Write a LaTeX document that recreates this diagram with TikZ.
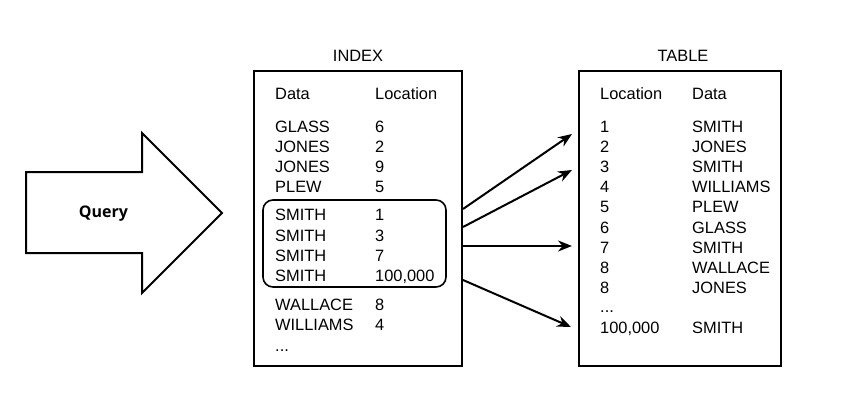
\documentclass[tikz,border=0pt]{standalone}
\usepackage{fontspec}
\setmainfont{Liberation Sans}
\newfontfamily\queryfont{Open Sans}
\usetikzlibrary{arrows.meta}
\begin{document}
\begin{tikzpicture}[x=1pt,y=-1pt,
  txt/.style={anchor=base west,inner sep=0pt,font=\fontsize{16.4}{18}\selectfont},
  ttl/.style={anchor=base,inner sep=0pt,font=\fontsize{16.4}{18}\selectfont},
  box/.style={draw,line width=2pt,inner sep=0pt},
  conn/.style={line width=2pt,-{Stealth[length=14pt,width=11pt]}},
  grp/.style={draw,line width=1.6pt,rounded corners=10pt}]
\useasboundingbox (0,0) rectangle (841,413);
% Query arrow
\draw[line width=2pt,line join=miter] (26,172) -- (142,172) -- (142,133) -- (222,213) -- (142,293) -- (142,253) -- (26,253) -- cycle;
\node (query) [inner sep=0pt,font=\queryfont\bfseries\fontsize{16}{18}\selectfont] at (103.5,214) {Query};
% boxes
\node (index) [box,minimum width=208pt,minimum height=295pt] at (358,218.5) {};
\node (table) [box,minimum width=202pt,minimum height=295pt] at (680,218.5) {};
\node (indexttl) [ttl] at (358,61) {INDEX};
\node (tablettl) [ttl] at (683,61) {TABLE};
% index content
\node (ih1) [txt] at (275,99) {Data};
\node (ih2) [txt] at (375,99) {Location};
\node (i1a) [txt] at (275,132) {GLASS};   \node (i1b) [txt] at (375,132) {6};
\node (i2a) [txt] at (275,152) {JONES};   \node (i2b) [txt] at (375,152) {2};
\node (i3a) [txt] at (275,172) {JONES};   \node (i3b) [txt] at (375,172) {9};
\node (i4a) [txt] at (275,192) {PLEW};    \node (i4b) [txt] at (375,192) {5};
\node (i5a) [txt] at (275,220) {SMITH};   \node (i5b) [txt] at (375,220) {1};
\node (i6a) [txt] at (275,241) {SMITH};   \node (i6b) [txt] at (375,241) {3};
\node (i7a) [txt] at (275,261) {SMITH};   \node (i7b) [txt] at (375,261) {7};
\node (i8a) [txt] at (275,281) {SMITH};   \node (i8b) [txt] at (375,281) {100,000};
\node (i9a) [txt] at (275,310) {WALLACE}; \node (i9b) [txt] at (375,310) {8};
\node (i10a) [txt] at (275,330) {WILLIAMS}; \node (i10b) [txt] at (375,330) {4};
\node (i11a) [txt] at (275,351) {...};
\node (group) [grp,minimum width=183pt,minimum height=87pt] at (354.5,243.5) {};
% table content
\node (th1) [txt] at (600,99) {Location};
\node (th2) [txt] at (692,99) {Data};
\node (t1a) [txt] at (600,132) {1};  \node (t1b) [txt] at (692,132) {SMITH};
\node (t2a) [txt] at (600,152) {2};  \node (t2b) [txt] at (692,152) {JONES};
\node (t3a) [txt] at (600,172) {3};  \node (t3b) [txt] at (692,172) {SMITH};
\node (t4a) [txt] at (600,192) {4};  \node (t4b) [txt] at (692,192) {WILLIAMS};
\node (t5a) [txt] at (600,212) {5};  \node (t5b) [txt] at (692,212) {PLEW};
\node (t6a) [txt] at (600,233) {6};  \node (t6b) [txt] at (692,233) {GLASS};
\node (t7a) [txt] at (600,253) {7};  \node (t7b) [txt] at (692,253) {SMITH};
\node (t8a) [txt] at (600,273) {8};  \node (t8b) [txt] at (692,273) {WALLACE};
\node (t9a) [txt] at (600,293) {8};  \node (t9b) [txt] at (692,293) {JONES};
\node (t10a) [txt] at (600,312) {...};
\node (t11a) [txt] at (600,333) {100,000}; \node (t11b) [txt] at (692,333) {SMITH};
% connectors
\coordinate (s1) at (463,209); \coordinate (e1) at (572,134);
\coordinate (s2) at (463,227); \coordinate (e2) at (572,170);
\coordinate (s3) at (463,246); \coordinate (e3) at (572,246);
\coordinate (s4) at (463,280); \coordinate (e4) at (571,327);
\draw[conn] (s1) -- (e1);
\draw[conn] (s2) -- (e2);
\draw[conn] (s3) -- (e3);
\draw[conn] (s4) -- (e4);
\end{tikzpicture}
\end{document}
